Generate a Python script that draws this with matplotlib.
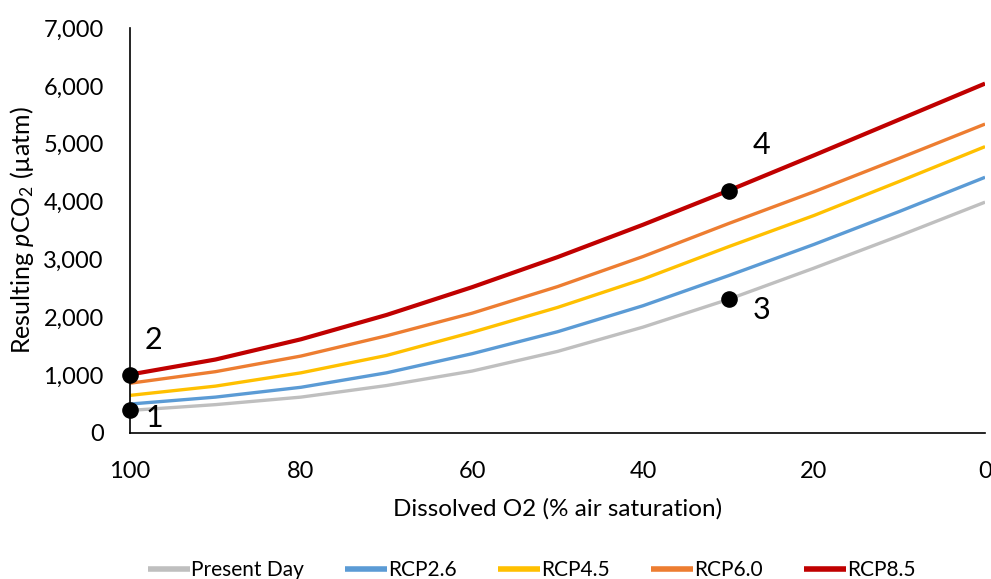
import matplotlib
matplotlib.use("Agg")
import matplotlib.pyplot as plt

plt.rcParams['font.family'] = ['Lato', 'DejaVu Sans']
plt.rcParams['mathtext.fontset'] = 'custom'
plt.rcParams['mathtext.rm'] = 'Lato'
plt.rcParams['mathtext.it'] = 'Lato:italic'
plt.rcParams['mathtext.bf'] = 'Lato:bold'

oxygen = [100, 90, 80, 70, 60, 50, 40, 30, 20, 10, 0]
present_day = [390, 490, 620, 820, 1070, 1410, 1830, 2310, 2850, 3410, 3990]
rcp26 = [500, 620, 790, 1040, 1370, 1750, 2200, 2720, 3260, 3830, 4420]
rcp45 = [650, 810, 1040, 1340, 1740, 2170, 2660, 3220, 3760, 4350, 4950]
rcp60 = [860, 1060, 1330, 1680, 2070, 2530, 3050, 3620, 4170, 4750, 5340]
rcp85 = [1010, 1270, 1620, 2040, 2520, 3040, 3600, 4190, 4800, 5420, 6040]

series_names = ["Present Day", "RCP2.6", "RCP4.5", "RCP6.0", "RCP8.5"]
series_values = [present_day, rcp26, rcp45, rcp60, rcp85]
colors = ["#BFBFBF", "#5B9BD5", "#FFC000", "#ED7D31", "#C00000"]
widths = [2.4, 2.4, 2.4, 2.4, 3.0]

point_labels = ["1", "2", "3", "4"]
point_x = [100, 100, 30, 30]
point_y = [390, 1010, 2310, 4190]
label_x = [97.1, 97.3, 26.1, 26.1]
label_y = [260, 1610, 2125, 4980]

fig = plt.figure(figsize=(9.91, 5.79), dpi=100)
ax = fig.add_axes([0.1312, 0.2522, 0.8628, 0.6994])

for name, vals, c, w in zip(series_names, series_values, colors, widths):
    ax.plot(oxygen, vals, color=c, lw=w, label=name, solid_capstyle='butt')

ax.scatter(point_x, point_y, s=120, color='black', zorder=5, clip_on=False)
for t, lx, ly in zip(point_labels, label_x, label_y):
    ax.text(lx, ly, t, fontsize=22, ha='center', va='center', color='black')

ax.set_xlim(100, 0)
ax.set_ylim(0, 7000)
ax.set_xticks([100, 80, 60, 40, 20, 0])
ax.set_yticks(range(0, 7001, 1000))
ax.set_yticklabels([f"{v:,}" for v in range(0, 7001, 1000)])
ax.tick_params(axis='both', length=0, labelsize=17, colors='#000000')
ax.tick_params(axis='x', pad=20)
ax.tick_params(axis='y', pad=19)

for s in ['top', 'right']:
    ax.spines[s].set_visible(False)
for s in ['left', 'bottom']:
    ax.spines[s].set_color('black')
    ax.spines[s].set_linewidth(1.2)

ax.set_xlabel("Dissolved O2 (% air saturation)", fontsize=17.5, labelpad=12)
ax.set_ylabel(r"Resulting $\mathit{p}$CO$_2$ (µatm)", fontsize=18, labelpad=5)

leg = fig.legend(loc='center left', bbox_to_anchor=(148 / 991, 1 - 570 / 579), ncol=5,
                 frameon=False, fontsize=15, handlelength=2.0, columnspacing=2.0,
                 handletextpad=0.05, borderpad=0, borderaxespad=0)
for h in leg.get_lines():
    h.set_linewidth(4)

fig.savefig("out.png", dpi=100)
